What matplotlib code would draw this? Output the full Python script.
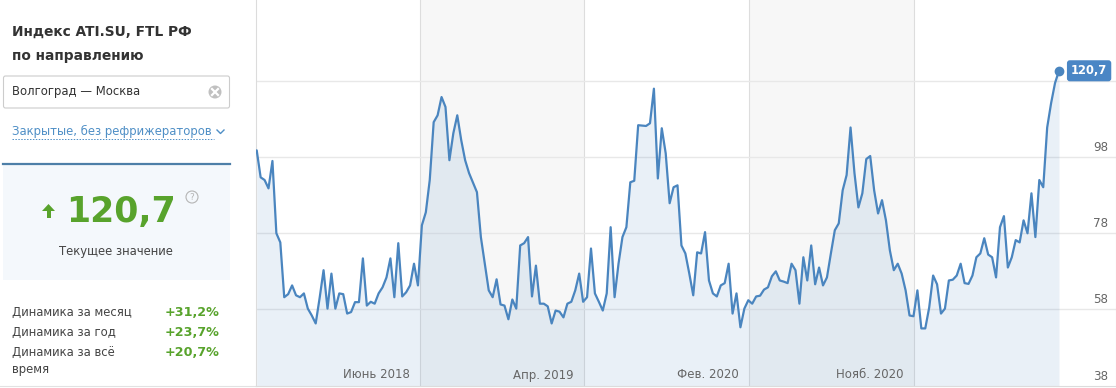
import matplotlib
matplotlib.use("Agg")
import matplotlib.pyplot as plt
import numpy as np
from matplotlib.patches import Rectangle, Circle, Polygon, FancyBboxPatch

# weekly index values
values = [
    99.8, 92.7, 92.0, 89.8, 97.0, 78.0, 75.6, 61.2, 62.0, 64.3,
    61.7, 61.2, 62.2, 58.2, 56.4, 54.3, 61.0, 68.3, 58.2, 67.4,
    58.2, 62.2, 62.0, 56.9, 57.3, 59.9, 59.9, 71.4, 59.0, 60.0,
    59.5, 62.2, 63.8, 66.4, 71.4, 61.2, 75.4, 61.4, 62.5, 64.3,
    70.0, 64.3, 80.1, 83.5, 92.0, 107.2, 109.0, 113.8, 111.2, 97.2,
    104.3, 109.0, 102.5, 97.2, 93.8, 91.3, 88.8, 77.0, 70.0, 63.0,
    61.2, 65.9, 59.3, 59.0, 55.4, 60.6, 58.2, 74.8, 75.4, 77.0,
    61.4, 69.5, 59.5, 59.5, 58.8, 54.3, 57.7, 57.4, 55.9, 59.5,
    60.0, 63.0, 67.4, 60.0, 61.2, 74.0, 62.2, 60.0, 57.7, 62.2,
    79.6, 61.2, 70.0, 77.0, 79.6, 91.4, 91.8, 106.4, 106.3, 106.2,
    106.9, 116.0, 92.4, 105.6, 99.0, 85.9, 90.1, 90.6, 74.8,
    72.7, 67.4, 61.7, 73.0, 72.7, 78.3, 65.6, 62.2, 61.4, 64.3,
    64.9, 70.0, 56.9, 62.2, 53.3, 58.2, 60.4, 59.5, 61.4, 61.6,
    63.2, 63.8, 66.7, 68.0, 65.6, 65.3, 64.9, 70.0, 68.3, 59.5,
    71.7, 65.6, 74.8, 64.6, 69.0, 64.3, 66.4, 72.7, 78.8, 80.6,
    89.3, 93.3, 105.8, 93.8, 84.8, 88.5, 97.5, 98.3, 89.3, 83.2,
    86.7, 81.4, 73.5, 68.3, 70.0, 67.4, 63.0, 56.4, 56.2, 63.0,
    53.0, 53.0, 58.5, 66.9, 64.6, 56.9, 58.2, 65.6, 65.8, 66.9,
    70.0, 64.9, 64.7, 66.9, 71.7, 72.7, 76.7, 72.4, 71.7, 66.4,
    79.6, 82.5, 69.0, 71.7, 76.2, 75.6, 81.4, 78.0, 88.5, 77.0,
    92.0, 90.1, 105.8, 112.2, 117.5, 120.7,
]
period_labels = ["Июнь 2018", "Апр. 2019", "Фев. 2020", "Нояб. 2020"]
period_edges = [41.5, 83.2, 125.2, 167.1]   # week index where each label's period ends
y_grid = [58, 78, 98, 118]
y_tick_labels = [38, 58, 78, 98]

current = "120,7"
stat_labels = ["Динамика за месяц", "Динамика за год", "Динамика за всё"]
stat_values = ["+31,2%", "+23,7%", "+20,7%"]

W, H = 1116, 388
LINE = "#4a85bf"
GREEN = "#58a32c"
GRAY_TXT = "#666666"
FS = 8.4

fig = plt.figure(figsize=(W / 100, H / 100), dpi=100)
fig.patch.set_facecolor("white")

# ---- left info panel, drawn in pixel coordinates ----
side = fig.add_axes([0, 0, 1, 1])
side.set_xlim(0, W)
side.set_ylim(H, 0)
side.axis("off")

side.text(12, 32, "Индекс ATI.SU, FTL РФ", fontsize=9.9, fontweight="bold",
          color="#333333", va="center")
side.text(12, 56, "по направлению", fontsize=9.9, fontweight="bold",
          color="#333333", va="center")

side.add_patch(FancyBboxPatch((3.5, 76), 226, 32, boxstyle="round,pad=0,rounding_size=2",
                              fc="white", ec="#cccccc", lw=0.8))
side.text(12, 92, "Волгоград — Москва", fontsize=FS, color="#333333", va="center")
side.add_patch(Circle((215, 92), 6.5, fc="#c0c0c0", ec="none"))
side.plot([212, 218], [89, 95], color="white", lw=1.6)
side.plot([212, 218], [95, 89], color="white", lw=1.6)

side.text(12, 131, "Закрытые, без рефрижераторов", fontsize=FS, color="#4f8fc6",
          va="center")
side.plot([12, 214], [139, 139], color="#4f8fc6", lw=0.7, ls=(0, (1.5, 1.5)))
side.plot([217, 220.5, 224], [130, 133.5, 130], color="#4f8fc6", lw=1.0)

side.add_patch(Rectangle((3, 165), 227, 115, fc="#f4f8fc", ec="none"))
side.plot([3, 230], [164, 164], color="#4d7fa8", lw=1.6)

# green up arrow
side.add_patch(Polygon([[42, 211], [48.5, 204], [55, 211]], closed=True,
                       fc=GREEN, ec="none"))
side.add_patch(Rectangle((46.5, 210), 4, 8, fc=GREEN, ec="none"))
side.text(121, 212, current, fontsize=25, fontweight="bold", color=GREEN,
          ha="center", va="center")
side.add_patch(Circle((192, 197), 6, fc="none", ec="#b5b5b5", lw=0.8))
side.text(192, 197.5, "?", fontsize=6.5, color="#b5b5b5", ha="center", va="center")
side.text(116, 251, "Текущее значение", fontsize=FS, color="#444444",
          ha="center", va="center")

for i, (label, val) in enumerate(zip(stat_labels, stat_values)):
    y = 312 + i * 20.5
    side.text(12, y, label, fontsize=FS, color="#444444", va="center")
    side.text(219, y, val, fontsize=9.2, fontweight="bold", color=GREEN,
              ha="right", va="center")
side.text(12, 370, "время", fontsize=FS, color="#444444", va="center")
side.plot([0, W], [386, 386], color="#e2e2e2", lw=0.8)

# ---- chart ----
ax = fig.add_axes([256 / W, 2.5 / H, (W - 256) / W, (H - 2.5) / H])
x = np.arange(len(values))
ax.set_xlim(-0.18, 218.5)
ax.set_ylim(38, 139.3)

edges = period_edges
for a, b in [(edges[0], edges[1]), (edges[2], edges[3])]:
    ax.axvspan(a, b, color="#f7f7f7", lw=0, zorder=0)
for e in edges:
    ax.axvline(e, color="#dddddd", lw=0.8, zorder=1)
for g in y_grid:
    ax.axhline(g, color="#e8e8e8", lw=1.0, zorder=1)

ax.fill_between(x, values, 38, color=LINE, alpha=0.12, lw=0, zorder=2)
ax.plot(x, values, color=LINE, lw=1.6, zorder=3,
        solid_joinstyle="round", solid_capstyle="round")
ax.plot(x[-1], values[-1], "o", color=LINE, ms=6, zorder=4)
ax.annotate(current, xy=(x[-1], values[-1]), xytext=(12, 0), textcoords="offset pixels",
            ha="left", va="center", fontsize=8.3, fontweight="bold", color="white",
            bbox=dict(boxstyle="round,pad=0.35,rounding_size=0.25", fc="#4a86c5", ec="none"),
            zorder=5)

for t in y_tick_labels:
    ax.annotate(str(t), xy=(1, t), xycoords=("axes fraction", "data"),
                xytext=(-8, 3), textcoords="offset pixels",
                ha="right", va="bottom", fontsize=8.6, color=GRAY_TXT)
for lab, e in zip(period_labels, period_edges):
    ax.annotate(lab, xy=(e, 38), xytext=(-10, 4), textcoords="offset pixels",
                ha="right", va="bottom", fontsize=8.5, color=GRAY_TXT)

ax.set_xticks([])
ax.set_yticks([])
ax.spines["top"].set_visible(False)
for s in ["left", "right", "bottom"]:
    ax.spines[s].set_color("#dcdcdc")
    ax.spines[s].set_linewidth(0.8)

fig.savefig("out.png", dpi=100)
